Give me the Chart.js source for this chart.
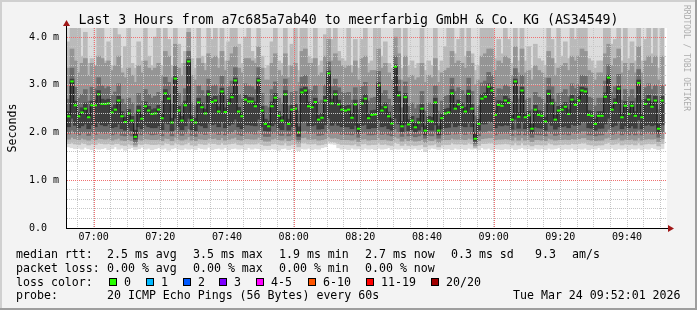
<!DOCTYPE html>
<html>
<head>
<meta charset="utf-8">
<script src="https://cdn.jsdelivr.net/npm/chart.js@4.4.1/dist/chart.umd.min.js"></script>
<style>
  body { margin: 0; background: #f3f3f3; }
  canvas { display: block; }
</style>
</head>
<body>
<canvas id="smoke" width="697" height="310"></canvas>
<script>
// one column per minute, 06:52 .. 09:51, values in ms
const median = [
  2.34,3.07,2.57,2.34,2.42,2.50,2.32,2.57,2.57,2.80,
  2.60,2.60,2.61,2.42,2.48,2.67,2.34,2.22,2.40,2.25,
  1.91,2.46,2.29,2.55,2.46,2.39,2.40,2.48,2.30,2.82,
  2.71,2.21,3.13,2.46,2.25,2.57,3.49,2.26,2.21,2.63,
  2.53,2.40,2.80,2.64,2.67,2.44,2.86,2.43,2.61,2.74,
  3.09,2.44,2.34,2.69,2.65,2.65,2.55,3.09,2.46,2.18,
  2.13,2.55,2.73,2.35,2.25,2.80,2.18,2.48,2.50,2.00,
  2.84,2.88,2.55,2.53,2.64,2.27,2.31,2.67,3.24,2.61,
  2.80,2.59,2.48,2.46,2.48,2.31,2.59,2.08,2.61,2.71,
  2.30,2.37,2.38,2.99,2.46,2.53,2.34,2.19,3.38,2.78,
  2.13,2.74,2.17,2.25,2.11,2.21,2.50,2.04,2.25,2.23,
  2.63,2.04,2.30,2.40,2.42,2.82,2.50,2.59,2.53,2.44,
  2.81,2.50,1.87,2.18,2.71,2.75,2.96,2.88,2.37,2.58,
  2.56,2.67,2.62,2.27,3.07,2.33,2.88,2.32,2.36,2.08,
  2.48,2.37,2.35,2.23,2.81,2.61,2.27,2.46,2.48,2.54,
  2.39,2.69,2.58,2.67,2.88,2.86,2.37,2.35,2.18,2.35,
  2.35,2.75,3.15,2.48,2.62,2.92,2.32,2.56,2.39,2.56,
  2.35,3.04,2.32,2.60,2.69,2.54,2.67,2.08,2.67
];

// sorted pings of each minute (smoke): fastest .. slowest
const ping01 = [
  1.70,1.68,1.66,1.67,1.65,1.69,1.66,1.64,1.67,1.65,
  1.66,1.68,1.64,1.66,1.70,1.65,1.67,1.63,1.66,1.68,
  1.64,1.66,1.69,1.65,1.67,1.64,1.66,1.68,1.65,1.67,
  1.63,1.66,1.68,1.65,1.64,1.67,1.65,1.66,1.64,1.68,
  1.66,1.65,1.69,1.64,1.66,1.67,1.65,1.68,1.64,1.66,
  1.67,1.65,1.66,1.64,1.68,1.65,1.67,1.66,1.63,1.65,
  1.64,1.66,1.65,1.63,1.66,1.67,1.64,1.66,1.65,1.62,
  1.66,1.65,1.67,1.64,1.66,1.65,1.68,1.70,1.77,1.76,
  1.75,1.68,1.65,1.66,1.64,1.67,1.65,1.66,1.64,1.67,
  1.65,1.66,1.64,1.67,1.65,1.66,1.68,1.64,1.66,1.65,
  1.67,1.64,1.66,1.65,1.67,1.64,1.66,1.60,1.65,1.67,
  1.66,1.64,1.67,1.65,1.66,1.64,1.67,1.65,1.66,1.64,
  1.67,1.65,1.66,1.64,1.68,1.65,1.67,1.64,1.66,1.65,
  1.64,1.66,1.65,1.67,1.64,1.66,1.68,1.65,1.66,1.64,
  1.67,1.65,1.66,1.64,1.67,1.65,1.66,1.68,1.64,1.66,
  1.65,1.67,1.64,1.66,1.65,1.67,1.64,1.66,1.65,1.68,
  1.64,1.66,1.65,1.67,1.64,1.66,1.65,1.67,1.64,1.66,
  1.65,1.67,1.64,1.66,1.65,1.68,1.66,1.64,1.66
];
const ping03 = [
  1.77,1.78,1.76,1.75,1.78,1.77,1.74,1.76,1.75,1.78,
  1.77,1.76,1.77,1.75,1.77,1.77,1.74,1.73,1.76,1.74,
  1.70,1.76,1.75,1.77,1.76,1.75,1.75,1.76,1.74,1.78,
  1.77,1.74,1.78,1.76,1.74,1.76,1.79,1.74,1.73,1.77,
  1.76,1.75,1.78,1.77,1.77,1.75,1.78,1.75,1.76,1.77,
  1.78,1.75,1.74,1.77,1.76,1.76,1.76,1.78,1.75,1.73,
  1.73,1.76,1.77,1.75,1.74,1.78,1.73,1.75,1.76,1.70,
  1.78,1.78,1.76,1.76,1.77,1.74,1.75,1.77,1.82,1.81,
  1.80,1.77,1.75,1.75,1.75,1.74,1.76,1.72,1.76,1.77,
  1.74,1.75,1.75,1.78,1.75,1.76,1.74,1.73,1.79,1.77,
  1.73,1.77,1.73,1.74,1.73,1.74,1.75,1.70,1.74,1.74,
  1.76,1.70,1.74,1.75,1.75,1.78,1.76,1.76,1.76,1.75,
  1.78,1.76,1.68,1.73,1.77,1.77,1.78,1.78,1.75,1.76,
  1.76,1.77,1.76,1.74,1.78,1.74,1.78,1.74,1.75,1.72,
  1.75,1.75,1.74,1.74,1.78,1.76,1.74,1.75,1.75,1.76,
  1.75,1.77,1.76,1.77,1.78,1.78,1.75,1.74,1.73,1.74,
  1.74,1.77,1.79,1.75,1.76,1.78,1.74,1.76,1.75,1.76,
  1.74,1.78,1.74,1.76,1.77,1.76,1.77,1.72,1.77
];
const ping05 = [
  1.86,1.90,1.87,1.85,1.88,1.86,1.84,1.87,1.85,1.88,
  1.87,1.86,1.88,1.84,1.86,1.88,1.84,1.83,1.85,1.83,
  1.74,1.86,1.84,1.87,1.86,1.85,1.85,1.86,1.83,1.88,
  1.87,1.83,1.90,1.86,1.84,1.86,1.91,1.84,1.83,1.87,
  1.86,1.85,1.88,1.87,1.88,1.85,1.89,1.84,1.86,1.88,
  1.90,1.85,1.84,1.87,1.87,1.86,1.86,1.90,1.85,1.82,
  1.82,1.86,1.88,1.85,1.84,1.88,1.83,1.85,1.86,1.78,
  1.89,1.90,1.86,1.86,1.87,1.84,1.85,1.87,1.91,1.88,
  1.89,1.87,1.85,1.85,1.85,1.84,1.86,1.81,1.86,1.87,
  1.84,1.85,1.85,1.89,1.85,1.86,1.84,1.83,1.91,1.88,
  1.82,1.87,1.83,1.84,1.82,1.83,1.85,1.79,1.84,1.83,
  1.86,1.79,1.84,1.85,1.85,1.88,1.86,1.86,1.86,1.85,
  1.88,1.86,1.72,1.83,1.87,1.88,1.89,1.89,1.85,1.86,
  1.86,1.87,1.86,1.84,1.90,1.84,1.89,1.84,1.85,1.81,
  1.85,1.85,1.84,1.83,1.88,1.86,1.84,1.85,1.85,1.86,
  1.85,1.87,1.86,1.87,1.89,1.89,1.85,1.84,1.83,1.84,
  1.84,1.88,1.90,1.85,1.86,1.89,1.84,1.86,1.85,1.86,
  1.84,1.89,1.84,1.86,1.87,1.86,1.87,1.81,1.87
];
const ping07 = [
  1.97,2.05,1.98,1.95,1.99,2.00,1.94,1.99,1.96,2.02,
  1.99,1.98,2.00,1.95,1.97,2.01,1.94,1.93,1.96,1.93,
  1.80,1.97,1.95,1.99,1.97,1.95,1.96,1.98,1.93,2.02,
  2.00,1.93,2.06,1.97,1.94,1.98,2.08,1.94,1.92,1.99,
  1.98,1.96,2.02,1.99,2.00,1.96,2.03,1.95,1.98,2.01,
  2.06,1.96,1.94,1.99,1.99,1.98,1.97,2.05,1.96,1.92,
  1.92,1.98,2.01,1.95,1.94,2.02,1.93,1.96,1.97,1.85,
  2.03,2.04,1.98,1.98,1.99,1.94,1.95,1.99,2.08,1.99,
  2.02,1.99,1.96,1.96,1.96,1.95,1.98,1.90,1.98,2.00,
  1.95,1.95,1.96,2.05,1.96,1.98,1.95,1.93,2.08,2.01,
  1.92,2.00,1.93,1.94,1.91,1.93,1.96,1.88,1.94,1.93,
  1.99,1.88,1.95,1.96,1.96,2.02,1.97,1.98,1.98,1.96,
  2.02,1.97,1.77,1.93,2.00,2.01,2.04,2.03,1.95,1.98,
  1.98,1.99,1.98,1.94,2.05,1.95,2.03,1.95,1.95,1.90,
  1.96,1.95,1.95,1.93,2.02,1.98,1.94,1.96,1.96,1.97,
  1.95,2.00,1.98,1.99,2.03,2.03,1.95,1.95,1.93,1.95,
  1.95,2.01,2.07,1.96,1.98,2.04,1.95,1.98,1.95,1.98,
  1.95,2.05,1.95,1.98,2.00,1.97,1.99,1.90,1.99
];
const ping09 = [
  2.12,2.30,2.15,2.10,2.14,2.18,2.08,2.16,2.12,2.20,
  2.16,2.14,2.18,2.10,2.12,2.18,2.08,2.05,2.10,2.04,
  1.86,2.12,2.08,2.16,2.12,2.10,2.10,2.14,2.06,2.20,
  2.18,2.04,2.30,2.12,2.06,2.14,2.30,2.06,2.04,2.16,
  2.14,2.10,2.20,2.16,2.18,2.12,2.22,2.10,2.15,2.18,
  2.28,2.12,2.08,2.16,2.16,2.15,2.14,2.28,2.12,2.04,
  2.03,2.14,2.18,2.10,2.06,2.20,2.05,2.12,2.12,1.92,
  2.22,2.24,2.14,2.14,2.16,2.07,2.08,2.16,2.30,2.15,
  2.20,2.15,2.12,2.12,2.12,2.08,2.15,1.98,2.15,2.17,
  2.08,2.10,2.10,2.26,2.12,2.14,2.08,2.05,2.30,2.18,
  2.02,2.17,2.04,2.06,2.01,2.05,2.12,1.95,2.06,2.05,
  2.16,1.95,2.08,2.10,2.11,2.20,2.12,2.15,2.14,2.12,
  2.20,2.12,1.82,2.05,2.18,2.18,2.24,2.22,2.10,2.15,
  2.14,2.16,2.15,2.07,2.28,2.09,2.22,2.08,2.10,1.98,
  2.12,2.10,2.09,2.05,2.20,2.15,2.07,2.12,2.12,2.14,
  2.10,2.17,2.15,2.16,2.22,2.22,2.10,2.09,2.05,2.09,
  2.09,2.18,2.30,2.12,2.15,2.24,2.08,2.14,2.10,2.14,
  2.09,2.26,2.08,2.15,2.17,2.14,2.16,1.98,2.16
];
const ping12 = [
  2.44,3.12,2.66,2.42,2.52,2.62,2.40,2.66,2.68,2.88,
  2.70,2.68,2.70,2.52,2.58,2.76,2.44,2.32,2.48,2.34,
  2.05,2.56,2.38,2.64,2.55,2.48,2.50,2.57,2.40,2.90,
  2.80,2.30,3.18,2.55,2.34,2.66,3.53,2.35,2.30,2.72,
  2.62,2.49,2.88,2.72,2.76,2.54,2.93,2.52,2.70,2.82,
  3.14,2.53,2.43,2.78,2.74,2.73,2.64,3.14,2.55,2.28,
  2.24,2.64,2.82,2.44,2.34,2.88,2.28,2.57,2.59,2.12,
  2.92,2.95,2.64,2.62,2.72,2.36,2.40,2.76,3.29,2.70,
  2.88,2.68,2.57,2.55,2.57,2.40,2.68,2.18,2.70,2.80,
  2.39,2.46,2.47,3.05,2.55,2.62,2.43,2.29,3.42,2.86,
  2.23,2.82,2.27,2.34,2.21,2.30,2.59,2.14,2.34,2.32,
  2.72,2.14,2.39,2.49,2.51,2.90,2.59,2.68,2.62,2.53,
  2.89,2.59,2.00,2.28,2.80,2.83,3.02,2.95,2.46,2.67,
  2.65,2.76,2.71,2.36,3.12,2.42,2.95,2.41,2.45,2.18,
  2.57,2.46,2.44,2.32,2.89,2.70,2.36,2.55,2.57,2.63,
  2.48,2.78,2.67,2.76,2.95,2.93,2.46,2.44,2.28,2.44,
  2.44,2.83,3.20,2.57,2.71,2.98,2.41,2.65,2.48,2.65,
  2.44,3.10,2.41,2.69,2.78,2.63,2.76,2.18,2.76
];
const ping14 = [
  2.70,3.35,2.95,2.72,2.80,2.90,2.66,2.95,2.92,3.15,
  2.98,2.92,2.96,2.78,2.85,3.02,2.70,2.60,2.72,2.62,
  2.40,2.82,2.66,2.90,2.80,2.72,2.76,2.84,2.66,3.16,
  3.05,2.60,3.40,2.82,2.62,2.92,3.70,2.62,2.56,2.98,
  2.88,2.76,3.12,2.98,3.00,2.80,3.18,2.78,2.96,3.08,
  3.36,2.80,2.70,3.02,2.98,2.96,2.90,3.36,2.82,2.56,
  2.52,2.90,3.06,2.72,2.62,3.12,2.56,2.84,2.86,2.45,
  3.16,3.20,2.90,2.88,2.98,2.64,2.68,3.00,3.48,2.96,
  3.12,2.94,2.84,2.82,2.84,2.68,2.94,2.48,2.96,3.05,
  2.66,2.72,2.74,3.28,2.82,2.88,2.70,2.56,3.60,3.10,
  2.52,3.06,2.55,2.62,2.50,2.58,2.86,2.45,2.62,2.60,
  2.98,2.45,2.66,2.76,2.78,3.14,2.86,2.94,2.88,2.80,
  3.14,2.86,2.35,2.56,3.04,3.08,3.26,3.20,2.74,2.92,
  2.90,3.00,2.96,2.64,3.34,2.70,3.20,2.68,2.72,2.48,
  2.84,2.74,2.70,2.60,3.14,2.96,2.64,2.82,2.84,2.90,
  2.75,3.02,2.92,3.00,3.20,3.18,2.74,2.72,2.56,2.72,
  2.72,3.08,3.42,2.84,2.96,3.22,2.68,2.90,2.75,2.90,
  2.72,3.32,2.68,2.94,3.02,2.90,3.00,2.48,3.00
];
const ping16 = [
  3.35,3.75,3.50,3.25,3.45,3.55,3.20,3.45,3.40,3.60,
  3.55,3.45,3.50,3.30,3.40,3.60,3.25,3.15,3.35,3.20,
  3.05,3.40,3.25,3.50,3.35,3.30,3.35,3.45,3.20,3.70,
  3.60,3.15,3.85,3.35,3.20,3.45,4.10,3.20,3.10,3.55,
  3.45,3.30,3.65,3.55,3.60,3.35,3.70,3.30,3.50,3.65,
  3.80,3.35,3.25,3.55,3.55,3.50,3.45,3.80,3.35,3.10,
  3.10,3.45,3.65,3.30,3.20,3.65,3.15,3.40,3.45,3.05,
  3.70,3.75,3.45,3.45,3.55,3.20,3.25,3.60,3.95,3.50,
  3.65,3.50,3.40,3.35,3.40,3.25,3.50,3.10,3.55,3.60,
  3.25,3.30,3.30,3.75,3.35,3.45,3.25,3.10,4.00,3.65,
  3.10,3.60,3.15,3.20,3.10,3.15,3.45,3.05,3.20,3.15,
  3.55,3.05,3.25,3.30,3.35,3.70,3.45,3.50,3.45,3.35,
  3.70,3.45,3.00,3.10,3.60,3.65,3.75,3.75,3.30,3.50,
  3.45,3.60,3.55,3.20,3.80,3.25,3.75,3.25,3.30,3.10,
  3.40,3.30,3.25,3.15,3.70,3.55,3.20,3.35,3.40,3.45,
  3.30,3.60,3.50,3.60,3.75,3.70,3.30,3.25,3.10,3.25,
  3.25,3.65,3.85,3.40,3.55,3.75,3.25,3.45,3.30,3.45,
  3.25,3.80,3.25,3.50,3.60,3.45,3.60,3.10,3.60
];
const ping18 = [
  3.90,4.30,4.30,4.30,3.60,4.10,3.45,3.55,3.40,4.30,
  4.30,3.50,3.90,3.40,4.30,4.05,3.35,3.80,4.30,3.45,
  3.35,3.90,3.50,4.30,3.60,3.40,4.00,4.30,3.40,4.30,
  3.95,3.40,4.30,3.85,3.45,3.70,4.30,3.55,3.35,4.30,
  3.60,3.45,4.30,3.95,4.30,3.55,4.30,3.50,3.90,4.30,
  4.30,3.85,3.45,4.00,4.30,3.70,3.55,4.30,3.60,3.35,
  3.40,3.90,4.30,3.50,3.45,4.30,3.40,3.85,4.30,3.30,
  4.30,4.30,3.60,3.55,4.30,3.40,3.50,4.05,4.30,3.95,
  4.30,3.70,3.55,3.50,4.30,3.40,3.95,3.35,3.95,4.30,
  3.45,3.50,4.30,4.30,3.60,3.90,3.45,3.35,4.30,4.30,
  3.35,4.30,3.40,3.50,3.35,3.45,4.30,3.30,3.50,3.40,
  4.30,3.30,3.50,3.80,4.30,4.30,3.65,3.95,4.30,3.60,
  4.30,3.65,3.30,3.40,4.30,4.30,4.30,4.30,3.55,3.95,
  3.65,4.30,3.95,3.45,4.30,3.50,4.30,3.50,3.80,3.35,
  3.85,3.55,3.50,3.40,4.30,3.95,3.45,4.30,3.60,3.90,
  3.55,4.30,3.95,4.30,4.30,4.30,3.55,3.50,3.35,3.50,
  3.50,4.30,4.30,3.85,3.95,4.30,3.50,4.30,3.55,3.90,
  3.50,4.30,3.50,3.95,4.30,3.65,4.30,3.35,4.30
];
// slowest ping runs off the top of the graph in every minute
const ping20 = [
  4.3,4.3,4.3,4.3,4.3,4.3,4.3,4.3,4.3,4.3,
  4.3,4.3,4.3,4.3,4.3,4.3,4.3,4.3,4.3,4.3,
  4.3,4.3,4.3,4.3,4.3,4.3,4.3,4.3,4.3,4.3,
  4.3,4.3,4.3,4.3,4.3,4.3,4.3,4.3,4.3,4.3,
  4.3,4.3,4.3,4.3,4.3,4.3,4.3,4.3,4.3,4.3,
  4.3,4.3,4.3,4.3,4.3,4.3,4.3,4.3,4.3,4.3,
  4.3,4.3,4.3,4.3,4.3,4.3,4.3,4.3,4.3,4.3,
  4.3,4.3,4.3,4.3,4.3,4.3,4.3,4.3,4.3,4.3,
  4.3,4.3,4.3,4.3,4.3,4.3,4.3,4.3,4.3,4.3,
  4.3,4.3,4.3,4.3,4.3,4.3,4.3,4.3,4.3,4.3,
  4.3,4.3,4.3,4.3,4.3,4.3,4.3,4.3,4.3,4.3,
  4.3,4.3,4.3,4.3,4.3,4.3,4.3,4.3,4.3,4.3,
  4.3,4.3,4.3,4.3,4.3,4.3,4.3,4.3,4.3,4.3,
  4.3,4.3,4.3,4.3,4.3,4.3,4.3,4.3,4.3,4.3,
  4.3,4.3,4.3,4.3,4.3,4.3,4.3,4.3,4.3,4.3,
  4.3,4.3,4.3,4.3,4.3,4.3,4.3,4.3,4.3,4.3,
  4.3,4.3,4.3,4.3,4.3,4.3,4.3,4.3,4.3,4.3,
  4.3,4.3,4.3,4.3,4.3,4.3,4.3,4.3,4.3
];

const startTime = '06:52';
const timeLabels = ['07:00','07:20','07:40','08:00','08:20','08:40','09:00','09:20','09:40'];
const hourLabels = ['07:00','08:00','09:00'];
const yLabels = ['0.0', '1.0 m', '2.0 m', '3.0 m', '4.0 m'];
const yMajorTicks = [1, 2, 3, 4];

const title = 'Last 3 Hours from a7c685a7ab40 to meerfarbig GmbH & Co. KG (AS34549)';
const rttStats = ['2.5 ms avg', '3.5 ms max', '1.9 ms min', '2.7 ms now', '0.3 ms sd', '9.3', 'am/s'];
const lossStats = ['0.00 % avg', '0.00 % max', '0.00 % min', '0.00 % now'];
const lossLabels = ['0', '1', '2', '3', '4-5', '6-10', '11-19', '20/20'];
const lossColors = ['#26ff00', '#00b8ff', '#0059ff', '#7e00ff', '#ff00ff', '#ff5500', '#ff0000', '#a00000'];
const probeText = '20 ICMP Echo Pings (56 Bytes) every 60s';
const stamp = 'Tue Mar 24 09:52:01 2026';

function toMin(s) {
  const p = s.split(':');
  return Number(p[0]) * 60 + Number(p[1]);
}
const t0 = toMin(startTime);
const labelAt = {};
timeLabels.forEach(function(l) { labelAt[toMin(l) - t0] = l; });

const xTicks = [];
for (let m = 3; m <= 180; m += 5) xTicks.push(m);
const yTicks = [];
for (let k = 0; k <= 20; k++) yTicks.push(Math.round(k * 2) / 10);

const majorGrid = '#f07070';
const minorGrid = '#c6c6c6';

const colX = median.map(function(v, i) { return i + 0.5; });

function band(lo, hi) {
  return colX.map(function(x, i) { return {x: x, y: [lo[i], hi[i]]}; });
}

const smoke = [
  [ping01, ping20, '#dddddd'],
  [ping03, ping18, '#bababa'],
  [ping05, ping16, '#959595'],
  [ping07, ping14, '#6c6c6c'],
  [ping09, ping12, '#3e3e3e']
];

const medianPts = colX.map(function(x, i) { return {x: x, y: median[i]}; });

const datasets = [
  {type: 'line', data: medianPts, showLine: false, pointStyle: 'line',
   pointRadius: 1.7, pointBorderWidth: 2, pointBorderColor: '#26ff00', order: 1},
  {type: 'line', data: medianPts, stepped: 'middle', borderColor: '#1c1c1c',
   borderWidth: 1, pointRadius: 0, order: 2}
];
smoke.forEach(function(s, k) {
  datasets.push({type: 'bar', data: band(s[0], s[1]), backgroundColor: s[2],
    borderWidth: 0, barThickness: 4, grouped: false, order: 10 - k});
});

const mono = '"DejaVu Sans Mono", monospace';

const rrdLook = {
  id: 'rrdLook',
  beforeDraw: function(chart) {
    const ctx = chart.ctx, a = chart.chartArea;
    ctx.save();
    ctx.fillStyle = '#f3f3f3';
    ctx.fillRect(0, 0, 697, 310);
    ctx.fillStyle = '#d0d0d0';
    ctx.fillRect(0, 0, 697, 2);
    ctx.fillRect(0, 0, 2, 310);
    ctx.fillStyle = '#9e9e9e';
    ctx.fillRect(0, 308, 697, 2);
    ctx.fillRect(695, 0, 2, 310);
    ctx.fillStyle = '#ffffff';
    ctx.fillRect(a.left, a.top, a.right - a.left, a.bottom - a.top);
    ctx.restore();
  },
  afterDraw: function(chart) {
    const ctx = chart.ctx, a = chart.chartArea;
    const xs = chart.scales.x, ys = chart.scales.y;
    ctx.save();

    // major grid (hours / whole ms), dotted red over the smoke
    ctx.strokeStyle = majorGrid;
    ctx.lineWidth = 1;
    ctx.setLineDash([1, 1]);
    ctx.beginPath();
    hourLabels.forEach(function(l) {
      const px = Math.round(xs.getPixelForValue(toMin(l) - t0)) + 0.5;
      ctx.moveTo(px, a.top);
      ctx.lineTo(px, a.bottom);
    });
    yMajorTicks.forEach(function(v) {
      const py = Math.round(ys.getPixelForValue(v)) + 0.5;
      ctx.moveTo(a.left, py);
      ctx.lineTo(a.right, py);
    });
    ctx.stroke();
    ctx.setLineDash([]);

    // axes
    ctx.strokeStyle = '#000';
    ctx.beginPath();
    ctx.moveTo(a.left - 1, a.bottom + 0.5);
    ctx.lineTo(a.right + 2, a.bottom + 0.5);
    ctx.moveTo(a.left - 0.5, a.bottom + 1);
    ctx.lineTo(a.left - 0.5, a.top - 2);
    ctx.stroke();
    ctx.fillStyle = '#a01818';
    ctx.beginPath();
    ctx.moveTo(a.right + 7, a.bottom + 0.5);
    ctx.lineTo(a.right + 1, a.bottom - 3);
    ctx.lineTo(a.right + 1, a.bottom + 4);
    ctx.closePath();
    ctx.fill();
    ctx.beginPath();
    ctx.moveTo(a.left - 0.5, a.top - 8);
    ctx.lineTo(a.left - 4, a.top - 2);
    ctx.lineTo(a.left + 3, a.top - 2);
    ctx.closePath();
    ctx.fill();

    // title
    ctx.fillStyle = '#000';
    ctx.textBaseline = 'alphabetic';
    ctx.textAlign = 'center';
    ctx.font = '13.2px ' + mono;
    ctx.fillText(title, 348.5, 23.5);

    // vertical axis title
    ctx.font = '11.6px ' + mono;
    ctx.save();
    ctx.translate(15.5, (a.top + a.bottom) / 2);
    ctx.rotate(-Math.PI / 2);
    ctx.fillText('Seconds', 0, 0);
    ctx.restore();

    // watermark
    ctx.save();
    ctx.fillStyle = '#acacac';
    ctx.font = '8px ' + mono;
    ctx.textAlign = 'left';
    ctx.translate(684, 5);
    ctx.rotate(Math.PI / 2);
    ctx.fillText('RRDTOOL / TOBI OETIKER', 0, 0);
    ctx.restore();

    // legend
    ctx.textAlign = 'left';
    ctx.font = '11.6px ' + mono;
    const col = [107, 193, 279, 365, 451, 535, 572];
    ctx.fillText('median rtt:', 16, 258);
    rttStats.forEach(function(s, i) { ctx.fillText(s, col[i], 258); });
    ctx.fillText('packet loss:', 16, 272);
    lossStats.forEach(function(s, i) { ctx.fillText(s, col[i], 272); });
    ctx.fillText('loss color:', 16, 285.7);
    const boxX = [108.5, 145.5, 182.5, 219, 256, 307.5, 365.5, 430.5];
    lossLabels.forEach(function(l, i) {
      const bx = Math.round(boxX[i]);
      ctx.fillStyle = lossColors[i];
      ctx.fillRect(bx, 278, 8, 8);
      ctx.strokeStyle = '#000';
      ctx.strokeRect(bx + 0.5, 278.5, 7, 7);
      ctx.fillStyle = '#000';
      ctx.fillText(l, bx + 15, 285.7);
    });
    ctx.fillText('probe:', 16, 299.3);
    ctx.fillText(probeText, 107, 299.3);
    ctx.fillText(stamp, 513, 299.3);
    ctx.restore();
  }
};

function setTicks(list) {
  return function(s) { s.ticks = list.map(function(v) { return {value: v}; }); };
}

new Chart(document.getElementById('smoke'), {
  type: 'bar',
  data: {datasets: datasets},
  plugins: [rrdLook],
  options: {
    responsive: false,
    animation: false,
    devicePixelRatio: 1,
    layout: {padding: {left: 29, top: 28, right: 30, bottom: 0}},
    plugins: {legend: {display: false}, tooltip: {enabled: false}},
    scales: {
      x: {
        type: 'linear', min: 0, max: 180, offset: false,
        afterBuildTicks: setTicks(xTicks),
        afterFit: function(s) { s.height = 82; },
        grid: {z: 1, drawTicks: false, lineWidth: 1, offset: false, color: minorGrid},
        border: {display: false, dash: [1, 1]},
        ticks: {
          autoSkip: false, maxRotation: 0, padding: 3, color: '#000',
          font: {family: mono, size: 10},
          callback: function(v) { return labelAt[v] || ''; }
        }
      },
      y: {
        min: 0, max: 4.19,
        afterBuildTicks: setTicks(yTicks),
        afterFit: function(s) { s.width = 38; },
        grid: {z: 1, drawTicks: false, lineWidth: 1, color: minorGrid},
        border: {display: false, dash: [1, 1]},
        ticks: {
          autoSkip: false, crossAlign: 'far', padding: 0, color: '#000',
          font: {family: mono, size: 10},
          callback: function(v) {
            return Math.abs(v - Math.round(v)) < 1e-6 ? yLabels[Math.round(v)] : '';
          }
        }
      }
    }
  }
});
</script>
</body>
</html>
